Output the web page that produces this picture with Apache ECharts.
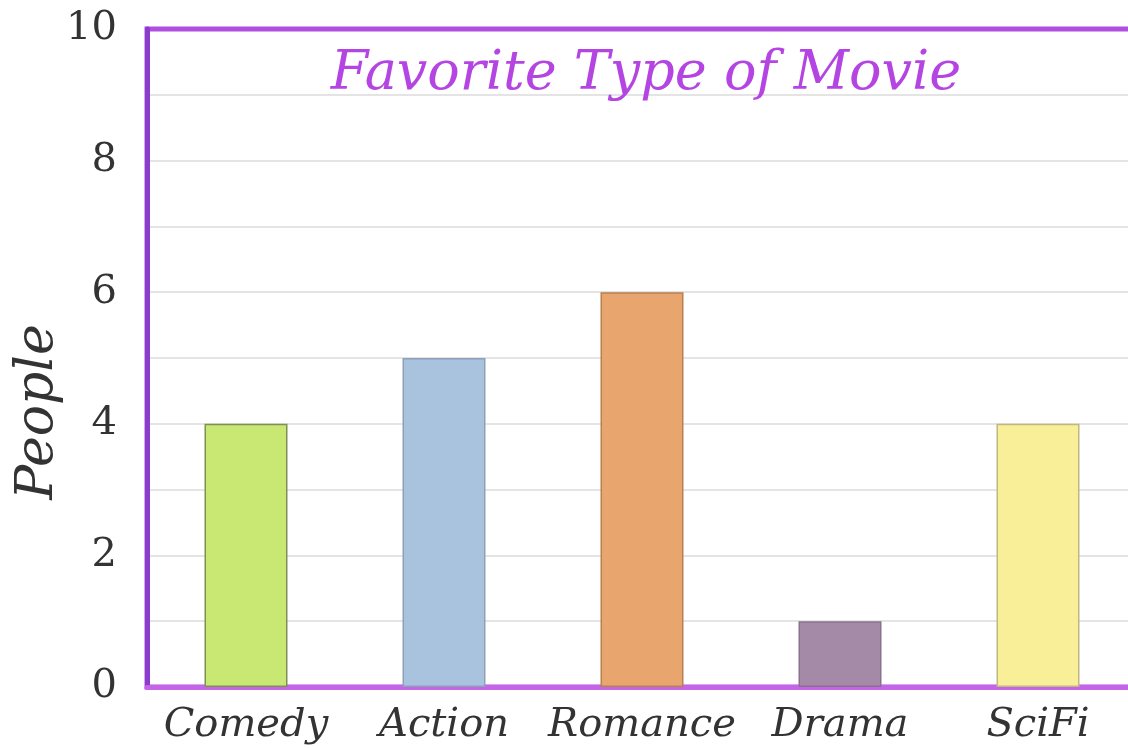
<!DOCTYPE html>
<html>
<head>
<meta charset="utf-8">
<script src="https://cdn.jsdelivr.net/npm/echarts@6/dist/echarts.min.js"></script>
<style>html,body{margin:0;padding:0;background:#fff}#c{width:1128px;height:749px}</style>
</head>
<body>
<div id="c"></div>
<script>
const categories = ['Comedy', 'Action', 'Romance', 'Drama', 'SciFi'];
const people = [4, 5, 6, 1, 4];
const barColors = ['#c9e873', '#a9c3df', '#e8a56e', '#a48aa6', '#f9ef99'];
const barBorders = ['#7f8f55', '#8ea0b8', '#b88050', '#8a7090', '#c0b880'];
const yTicks = [0, 2, 4, 6, 8, 10];
const yAxisTitle = 'People';

const chart = echarts.init(document.getElementById('c'));
chart.setOption({
  animation: false,
  title: {
    text: 'Favorite Type of Movie',
    left: 641, top: 43, textAlign: 'center',
    textStyle: { fontFamily: 'DejaVu Serif', fontStyle: 'italic', fontWeight: 'normal', fontSize: 54, color: '#b545e3' }
  },
  graphic: [{
    type: 'text', x: 38, y: 412, rotation: Math.PI / 2,
    style: { text: yAxisTitle, fontFamily: 'DejaVu Serif', fontStyle: 'italic', fontSize: 52, fill: '#333',
      align: 'center', verticalAlign: 'middle' }
  }],
  grid: { left: 147, top: 29, width: 990, height: 658, show: true, borderColor: '#b04ee0', borderWidth: 5,
    backgroundColor: 'transparent', outerBoundsMode: 'none', containLabel: false },
  xAxis: {
    type: 'category', data: categories,
    axisLine: { lineStyle: { color: '#c464e6', width: 5 } },
    axisTick: { show: false },
    axisLabel: { interval: 0, margin: 19, fontFamily: 'DejaVu Serif', fontStyle: 'italic', fontSize: 40, color: '#333' }
  },
  yAxis: {
    type: 'value', min: 0, max: 10, interval: 1,
    axisLine: { show: true, lineStyle: { color: '#8a3dcc', width: 5 } },
    axisTick: { show: false },
    axisLabel: { margin: 30, fontFamily: 'DejaVu Serif', fontSize: 40, color: '#333',
      formatter: v => yTicks.indexOf(v) >= 0 ? String(v) : '' },
    splitLine: { showMaxLine: false, showMinLine: false, lineStyle: { color: '#e4e4e4', width: 2 } }
  },
  series: [{
    type: 'bar', barWidth: 83,
    data: people.map((v, i) => ({ value: v, itemStyle: { color: barColors[i], borderColor: barBorders[i], borderWidth: 1.5 } }))
  }]
});
</script>
</body>
</html>
